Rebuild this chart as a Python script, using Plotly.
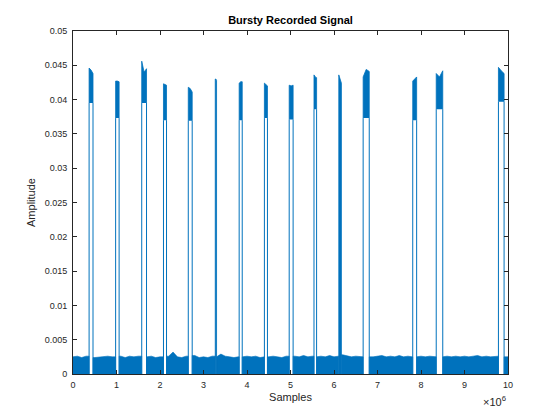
import plotly.graph_objects as go

noise_x = [i * 1e5 for i in range(101)]
noise_top = [
    2.5, 2.6, 2.4, 2.6, 2.5, 2.4, 2.5, 2.5, 2.6, 2.5,
    2.5, 2.6, 2.4, 2.6, 2.5, 2.6, 3.4, 2.5, 2.6, 2.4,
    2.5, 2.5, 2.6, 3.2, 2.5, 2.4, 2.6, 2.5, 2.7, 2.4,
    2.5, 2.4, 2.6, 2.5, 2.9, 2.6, 2.5, 2.4, 2.5, 2.5,
    2.6, 2.5, 2.6, 2.4, 2.5, 2.5, 2.6, 2.5, 2.4, 2.6,
    2.5, 2.6, 2.5, 2.7, 2.5, 2.6, 2.5, 2.6, 2.5, 2.7,
    2.5, 2.6, 2.8, 2.6, 2.5, 2.6, 2.5, 2.5, 2.6, 2.5,
    2.6, 2.7, 2.5, 2.6, 2.5, 2.7, 2.5, 2.6, 2.5, 2.5,
    2.6, 2.5, 2.6, 2.5, 2.5, 2.5, 2.6, 2.5, 2.6, 2.5,
    2.6, 2.5, 2.6, 2.7, 2.5, 2.6, 2.5, 2.6, 2.5, 2.6,
    2.5,
]
noise_top = [v * 1e-3 for v in noise_top]

# bursts: start / end sample (x1e6), envelope top (left, mid, right), lower edge of dense part
burst_start = [0.37, 0.98, 1.58, 2.08, 2.65, 3.27, 3.82, 4.40, 4.97, 5.54, 6.11, 6.67, 7.81, 8.35, 9.78]
burst_end = [0.46, 1.06, 1.69, 2.15, 2.74, 3.30, 3.89, 4.47, 5.06, 5.60, 6.17, 6.81, 7.90, 8.50, 9.91]
burst_top = [
    [0.0446, 0.0443, 0.0438],
    [0.0427, 0.0427, 0.0426],
    [0.0456, 0.0440, 0.0445],
    [0.0423, 0.0422, 0.0421],
    [0.0418, 0.0416, 0.0411],
    [0.0430, 0.0430, 0.0428],
    [0.0424, 0.0426, 0.0426],
    [0.0424, 0.0422, 0.0420],
    [0.0421, 0.0420, 0.0421],
    [0.0436, 0.0433, 0.0432],
    [0.0436, 0.0430, 0.0424],
    [0.0433, 0.0444, 0.0441],
    [0.0427, 0.0430, 0.0433],
    [0.0438, 0.0433, 0.0442],
    [0.0447, 0.0442, 0.0438],
]
burst_floor = [0.0395, 0.0373, 0.0395, 0.0370, 0.0369, 0.0, 0.0370, 0.0373,
               0.0371, 0.0386, 0.0, 0.0373, 0.0370, 0.0386, 0.0397]

x_ticks = list(range(11))
y_ticks = ['0', '0.005', '0.01', '0.015', '0.02', '0.025', '0.03', '0.035', '0.04', '0.045', '0.05']

blue = '#0072BD'
axis_col = '#262626'

# noise segments between bursts
bounds = [0.0] + [v for pair in zip(burst_start, burst_end) for v in pair] + [10.0]
nx, ny = [], []
for a, b in zip(bounds[0::2], bounds[1::2]):
    a, b = a * 1e6, b * 1e6
    pts = [(x, y) for x, y in zip(noise_x, noise_top) if a <= x <= b]
    if not pts:
        continue
    nx += [a, a] + [p[0] for p in pts] + [b, b, None]
    ny += [0, pts[0][1]] + [p[1] for p in pts] + [pts[-1][1], 0, None]

# dense burst blocks + edge lines
bx, by, ex, ey = [], [], [], []
for s, e, tops, fl in zip(burst_start, burst_end, burst_top, burst_floor):
    s, e = s * 1e6, e * 1e6
    n = len(tops)
    xs = [s + (e - s) * k / (n - 1) for k in range(n)]
    bx += [s] + xs + [e, None]
    by += [fl] + tops + [fl, None]
    ex += [s, s, None, e, e, None]
    ey += [0, fl, None, 0, fl, None]

fig = go.Figure()
fig.add_trace(go.Scatter(x=nx, y=ny, fill='toself', fillcolor=blue, mode='lines',
                         line=dict(color=blue, width=0.6), hoverinfo='skip'))
fig.add_trace(go.Scatter(x=bx, y=by, fill='toself', fillcolor=blue, mode='lines',
                         line=dict(color=blue, width=0.8), hoverinfo='skip'))
fig.add_trace(go.Scatter(x=ex, y=ey, mode='lines',
                         line=dict(color=blue, width=1), hoverinfo='skip'))

# page has an 8px body margin, so the margins are shifted to compensate
fig.update_layout(
    width=560, height=420,
    margin=dict(l=65, r=60, t=23, b=54),
    paper_bgcolor='white', plot_bgcolor='white',
    showlegend=False,
    font=dict(family='Liberation Sans, Arial, sans-serif', size=9, color=axis_col),
    title=dict(text='<b>Bursty Recorded Signal</b>', x=0.5, xref='paper',
               y=1 - 12 / 420, yanchor='middle', font=dict(size=11, color='black')),
)
fig.update_xaxes(
    range=[0, 10e6], tickvals=[t * 1e6 for t in x_ticks], ticktext=[str(t) for t in x_ticks],
    ticks='inside', ticklen=4, tickcolor=axis_col, showline=True, linecolor=axis_col,
    linewidth=1, mirror='ticks', showgrid=False, zeroline=False, ticklabelstandoff=2,
    title=dict(text='Samples', font=dict(size=11), standoff=4),
)
fig.update_yaxes(
    range=[0, 0.05], tickvals=[float(t) for t in y_ticks], ticktext=y_ticks,
    ticks='inside', ticklen=4, tickcolor=axis_col, showline=True, linecolor=axis_col,
    linewidth=1, mirror='ticks', showgrid=False, zeroline=False, ticklabelstandoff=3,
    title=dict(text='Amplitude', font=dict(size=11), standoff=6),
)
fig.add_annotation(text='×10<sup>6</sup>', xref='paper', yref='paper', x=1.0, y=-0.08,
                   xanchor='right', yanchor='middle', showarrow=False,
                   font=dict(size=11, color=axis_col))

fig.write_html('out.html')
